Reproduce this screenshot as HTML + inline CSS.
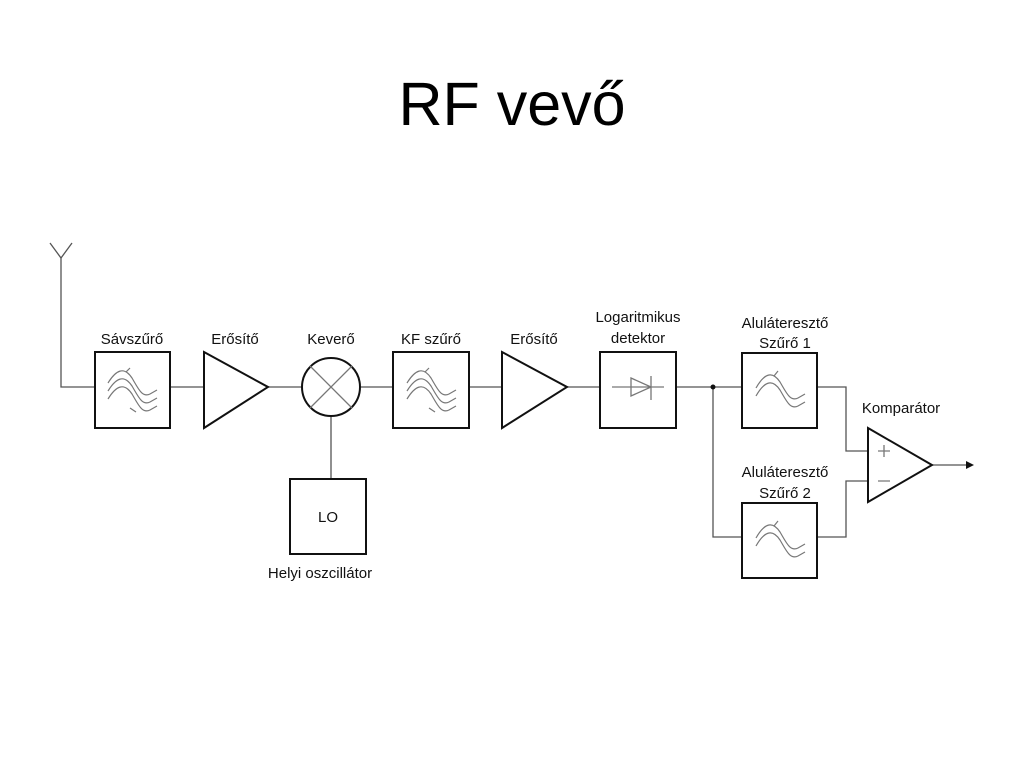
<!DOCTYPE html>
<html><head><meta charset="utf-8"><style>
body{margin:0;background:#fff;width:1024px;height:768px;overflow:hidden}
text{font-family:"Liberation Sans",Arial,sans-serif;fill:#111}
</style></head><body>
<svg width="1024" height="768" viewBox="0 0 1024 768">
<defs>
<g id="w3" fill="none" stroke="#777" stroke-width="1.2">
<path d="M-24,-7 C-16,-20 -8,-24 0,-12 C6,-2 10,8 18,4 L25,0"/>
<path d="M-24,1 C-16,-12 -8,-16 0,-4 C6,6 10,16 18,12 L25,8"/>
<path d="M-24,9 C-16,-4 -8,-8 0,4 C6,14 10,24 18,20 L25,16"/>
<path d="M-6,-18 L-2,-22 M4,22 L-2,18"/>
</g>
<g id="w2" fill="none" stroke="#777" stroke-width="1.2">
<path d="M-24,-2 C-16,-16 -8,-20 0,-8 C6,2 10,12 18,8 L25,4"/>
<path d="M-24,6 C-16,-8 -8,-12 0,0 C6,10 10,20 18,16 L25,12"/>
<path d="M-6,-14 L-2,-19"/>
</g>
</defs>
<text x="512" y="125" font-size="61" text-anchor="middle" style="fill:#000">RF vevő</text>
<g stroke="#555" stroke-width="1.3" fill="none">
<path d="M61,258 L61,387 L95,387 M170,387 L204,387 M268,387 L302,387 M360,387 L393,387 M469,387 L502,387 M567,387 L600,387 M676,387 L742,387 M817,387 L846,387 L846,451 L868,451 M713,387 L713,537 L742,537 M817,537 L846,537 L846,481 L868,481 M932,465 L966,465 M331,416 L331,479"/>
<path d="M50,243 L61,258 L72,243"/>
</g>
<polygon points="966,461 974,465 966,469" fill="#111"/>
<circle cx="713" cy="387" r="2.5" fill="#111"/>
<g stroke="#111" stroke-width="2" fill="none">
<rect x="95" y="352" width="75" height="76"/>
<rect x="393" y="352" width="76" height="76"/>
<rect x="600" y="352" width="76" height="76"/>
<rect x="742" y="353" width="75" height="75"/>
<rect x="742" y="503" width="75" height="75"/>
<rect x="290" y="479" width="76" height="75"/>
<polygon points="204,352 268,387 204,428"/>
<polygon points="502,352 567,387 502,428"/>
<polygon points="868,428 932,465 868,502"/>
<circle cx="331" cy="387" r="29"/>
</g>
<g stroke="#777" stroke-width="1.3" fill="none">
<path d="M310,366 L352,408 M352,366 L310,408"/>
<path d="M612,387 L664,387 M651,376 L651,400 M631,378 L651,387 L631,396 Z"/>
<path d="M878,451 L890,451 M884,445 L884,457 M878,481 L890,481"/>
</g>
<use href="#w3" x="132" y="390"/>
<use href="#w3" x="431" y="390"/>
<use href="#w2" x="780" y="390"/>
<use href="#w2" x="780" y="540"/>
<g font-size="15" text-anchor="middle">
<text x="132" y="344">Sávszűrő</text>
<text x="235" y="344">Erősítő</text>
<text x="331" y="344">Keverő</text>
<text x="431" y="344">KF szűrő</text>
<text x="534" y="344">Erősítő</text>
<text x="638" y="322">Logaritmikus</text>
<text x="638" y="343">detektor</text>
<text x="785" y="328">Aluláteresztő</text>
<text x="785" y="348">Szűrő 1</text>
<text x="901" y="413">Komparátor</text>
<text x="785" y="477">Aluláteresztő</text>
<text x="785" y="498">Szűrő 2</text>
<text x="328" y="522">LO</text>
<text x="320" y="578">Helyi oszcillátor</text>
</g>
</svg>
</body></html>
